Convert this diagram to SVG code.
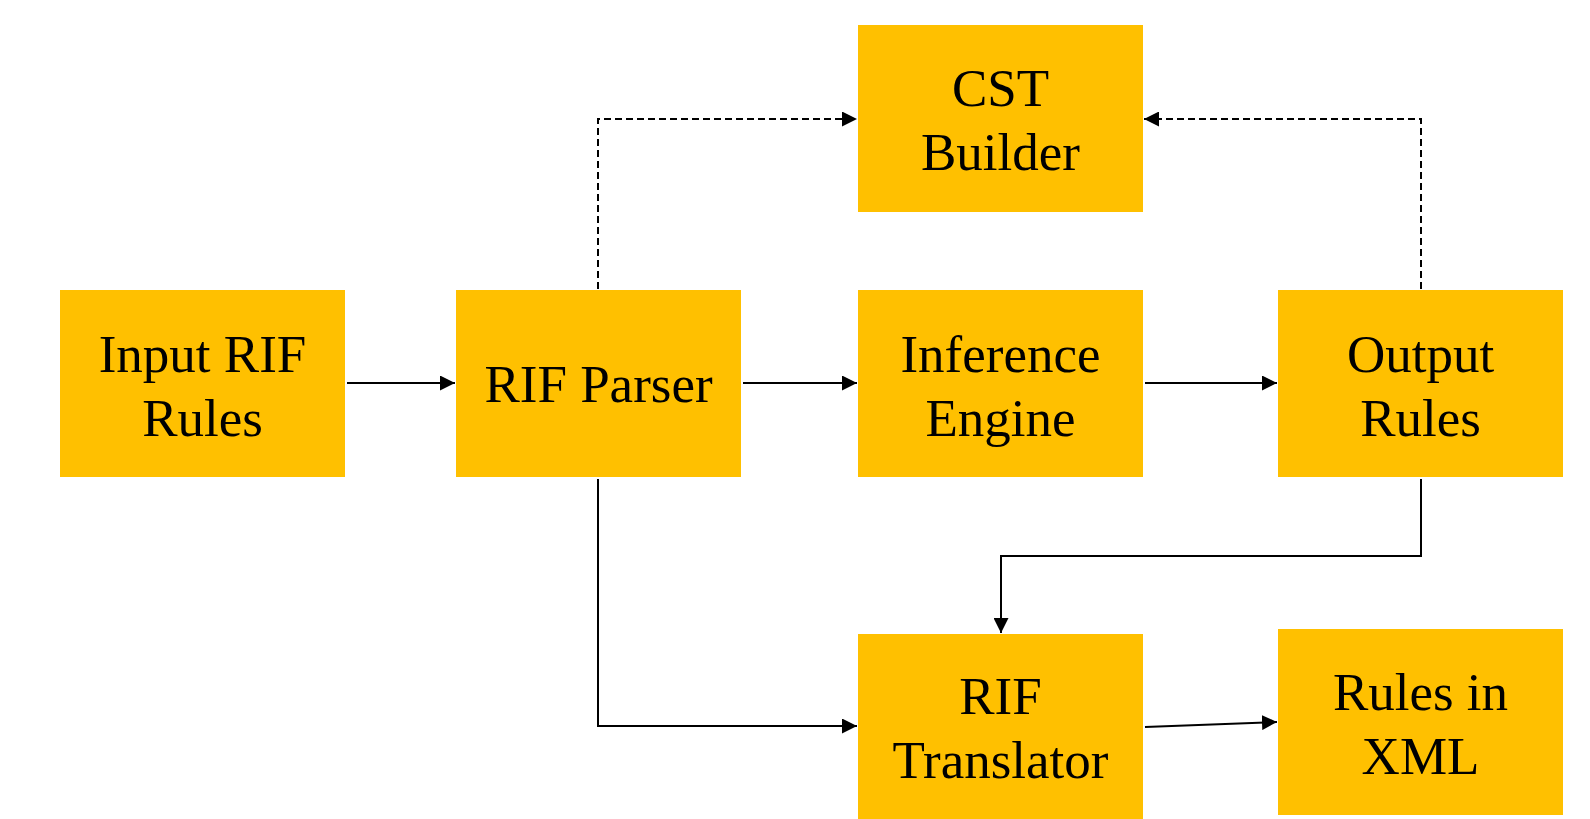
<svg xmlns="http://www.w3.org/2000/svg" width="1590" height="819" viewBox="0 0 1590 819">
<style>
.box{fill:#FFC000}
.t{font-family:"Liberation Serif","Times New Roman",serif;font-size:53px;fill:#000;text-anchor:middle}
.c{fill:none;stroke:#000;stroke-width:2}
.d{stroke-dasharray:7 4}
</style>
<defs>
<marker id="ah" viewBox="0 0 15 15" refX="15" refY="7.5" markerWidth="15" markerHeight="15" markerUnits="userSpaceOnUse" orient="auto">
<path d="M0,0 L15,7.5 L0,15 Z" fill="#000"/>
</marker>
</defs>
<rect width="1590" height="819" fill="#fff"/>
<g id="input">
<rect class="box" x="60" y="290" width="285" height="187"/>
<text class="t" x="202.5" y="372">Input RIF</text>
<text class="t" x="202.5" y="436">Rules</text>
</g>
<g id="parser">
<rect class="box" x="456" y="290" width="285" height="187"/>
<text class="t" x="598.5" y="402">RIF Parser</text>
</g>
<g id="cst">
<rect class="box" x="858" y="25" width="285" height="187"/>
<text class="t" x="1000.5" y="106">CST</text>
<text class="t" x="1000.5" y="170">Builder</text>
</g>
<g id="inference">
<rect class="box" x="858" y="290" width="285" height="187"/>
<text class="t" x="1000.5" y="372">Inference</text>
<text class="t" x="1000.5" y="436">Engine</text>
</g>
<g id="output">
<rect class="box" x="1278" y="290" width="285" height="187"/>
<text class="t" x="1420.5" y="372">Output</text>
<text class="t" x="1420.5" y="436">Rules</text>
</g>
<g id="translator">
<rect class="box" x="858" y="634" width="285" height="185"/>
<text class="t" x="1000.5" y="714">RIF</text>
<text class="t" x="1000.5" y="778">Translator</text>
</g>
<g id="xml">
<rect class="box" x="1278" y="629" width="285" height="186"/>
<text class="t" x="1420.5" y="710">Rules in</text>
<text class="t" x="1420.5" y="774">XML</text>
</g>
<g id="connectors">
<path class="c" d="M347,383 H455" marker-end="url(#ah)"/>
<path class="c" d="M743,383 H857" marker-end="url(#ah)"/>
<path class="c" d="M1145,383 H1277" marker-end="url(#ah)"/>
<path class="c d" d="M598,289 V119 H857" marker-end="url(#ah)"/>
<path class="c d" d="M1421,289 V119 H1144" marker-end="url(#ah)"/>
<path class="c" d="M1421,479 V556 H1001 V633" marker-end="url(#ah)"/>
<path class="c" d="M598,479 V726 H857" marker-end="url(#ah)"/>
<path class="c" d="M1145,727 L1277,722" marker-end="url(#ah)"/>
</g>
</svg>
